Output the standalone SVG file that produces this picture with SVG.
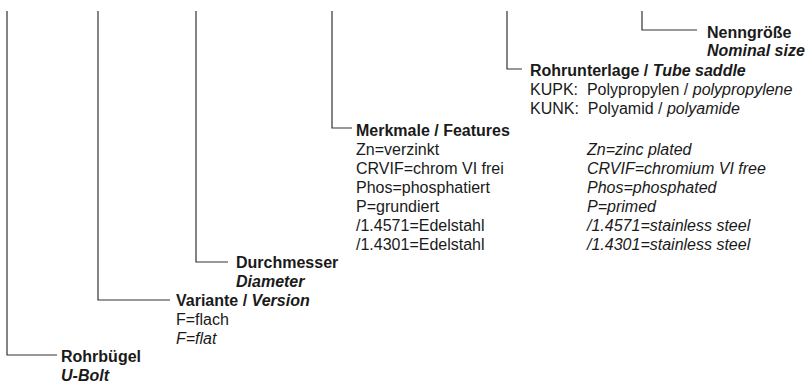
<svg xmlns="http://www.w3.org/2000/svg" width="806" height="385" viewBox="0 0 806 385">
<style>
text{font-family:"Liberation Sans",Arial,sans-serif;font-size:16px;fill:#1a1a1a}
.b{font-weight:bold}
.i{font-style:italic}
.c{fill:none;stroke:#333;stroke-width:1.2}
</style>
<rect width="806" height="385" fill="#fff"/>
<g id="connectors">
<polyline class="c" points="7,11 7,355 57,355"/>
<polyline class="c" points="98,11 98,300 170,300"/>
<polyline class="c" points="196,11 196,262 228,262"/>
<polyline class="c" points="332,11 332,128 352,128"/>
<polyline class="c" points="507,11 507,69 522,69"/>
<polyline class="c" points="642,11 642,30 697,30"/>
</g>
<g id="rohrbuegel">
<text x="61" y="362" class="b">Rohrbügel</text>
<text x="61" y="381" class="b i">U-Bolt</text>
</g>
<g id="variante">
<text x="176" y="306" class="b">Variante / <tspan class="i">Version</tspan></text>
<text x="176" y="325">F=flach</text>
<text x="176" y="344" class="i">F=flat</text>
</g>
<g id="durchmesser">
<text x="236" y="268" class="b">Durchmesser</text>
<text x="236" y="287" class="b i">Diameter</text>
</g>
<g id="merkmale">
<text x="356" y="136" class="b">Merkmale / Features</text>
<text x="356" y="155">Zn=verzinkt</text>
<text x="356" y="174">CRVIF=chrom VI frei</text>
<text x="356" y="193">Phos=phosphatiert</text>
<text x="356" y="212">P=grundiert</text>
<text x="356" y="231">/1.4571=Edelstahl</text>
<text x="356" y="250">/1.4301=Edelstahl</text>
<text x="587" y="155" class="i">Zn=zinc plated</text>
<text x="587" y="174" class="i">CRVIF=chromium VI free</text>
<text x="587" y="193" class="i">Phos=phosphated</text>
<text x="587" y="212" class="i">P=primed</text>
<text x="587" y="231" class="i">/1.4571=stainless steel</text>
<text x="587" y="250" class="i">/1.4301=stainless steel</text>
</g>
<g id="rohrunterlage">
<text x="530" y="76" class="b">Rohrunterlage / <tspan class="i">Tube saddle</tspan></text>
<text x="530" y="95" xml:space="preserve">KUPK:  Polypropylen / <tspan class="i">polypropylene</tspan></text>
<text x="530" y="114" xml:space="preserve">KUNK:  Polyamid / <tspan class="i">polyamide</tspan></text>
</g>
<g id="nenngroesse">
<text x="707" y="38" class="b">Nenngröße</text>
<text x="707" y="56" class="b i">Nominal size</text>
</g>
</svg>
